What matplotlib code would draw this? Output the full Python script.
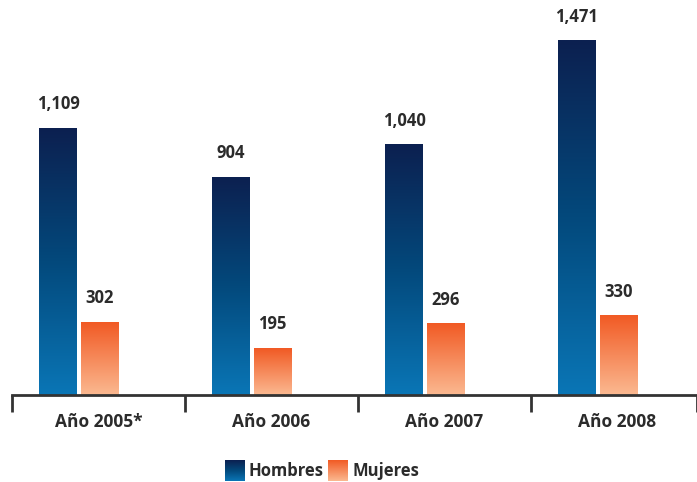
import numpy as np
import matplotlib.pyplot as plt
from matplotlib.colors import LinearSegmentedColormap

plt.rcParams['font.family'] = ['Open Sans', 'DejaVu Sans']

# Data
years = ["Año 2005*", "Año 2006", "Año 2007", "Año 2008"]
hombres = [1109, 904, 1040, 1471]
mujeres = [302, 195, 296, 330]

cmap_h = LinearSegmentedColormap.from_list("h", ["#0a76b6", "#03497c", "#0c2050"])
cmap_m = LinearSegmentedColormap.from_list("m", ["#fbb991", "#f15a24"])
grad = np.linspace(0, 1, 256).reshape(-1, 1)
txt = "#2b2b2b"


def grad_bar(ax, x0, w, h, cmap):
    ax.imshow(grad, extent=[x0, x0 + w, 0, h], origin="lower",
              cmap=cmap, aspect="auto", zorder=2)


fig = plt.figure(figsize=(6.97, 4.82), dpi=100)
# axes: left at 12px, baseline at 395px
ax = fig.add_axes([12 / 697, (482 - 395) / 482, 685 / 697, 395 / 482])

w = 0.218
for i in range(len(years)):
    xh = i - 0.234 - w / 2
    xm = i + 0.006 - w / 2
    grad_bar(ax, xh, w, hombres[i], cmap_h)
    grad_bar(ax, xm, w, mujeres[i], cmap_m)
    ax.text(xh + w / 2, hombres[i] + 62, f"{hombres[i]:,}", ha="center",
            va="bottom", fontsize=12, fontweight="bold", color=txt)
    ax.text(xm + w / 2, mujeres[i] + 62, f"{mujeres[i]:,}", ha="center",
            va="bottom", fontsize=12, fontweight="bold", color=txt)

ax.set_xlim(-0.5, 3.46)
ax.set_ylim(0, 1641)
for s in ["top", "right", "left"]:
    ax.spines[s].set_visible(False)
ax.spines["bottom"].set_linewidth(2)
ax.spines["bottom"].set_color("#333333")
ax.set_yticks([])
ax.set_xticks([-0.5, 0.5, 1.5, 2.5, 3.46])
ax.set_xticklabels([])
ax.tick_params(axis="x", length=12, width=2, color="#333333", direction="out")
for i, y in enumerate(years):
    ax.text(i, -112, y, ha="center", va="center", fontsize=12.5,
            fontweight="bold", color=txt)

# legend
for x0, cmap, lab in [(225, cmap_h, "Hombres"), (328, cmap_m, "Mujeres")]:
    la = fig.add_axes([x0 / 697, 1 / 482, 20 / 697, 21 / 482])
    la.imshow(grad, cmap=cmap, origin="lower", aspect="auto")
    la.axis("off")
    fig.text((x0 + 24) / 697, 11 / 482, lab, ha="left", va="center",
             fontsize=12, fontweight="bold", color=txt)

fig.savefig("out.png", dpi=100)
